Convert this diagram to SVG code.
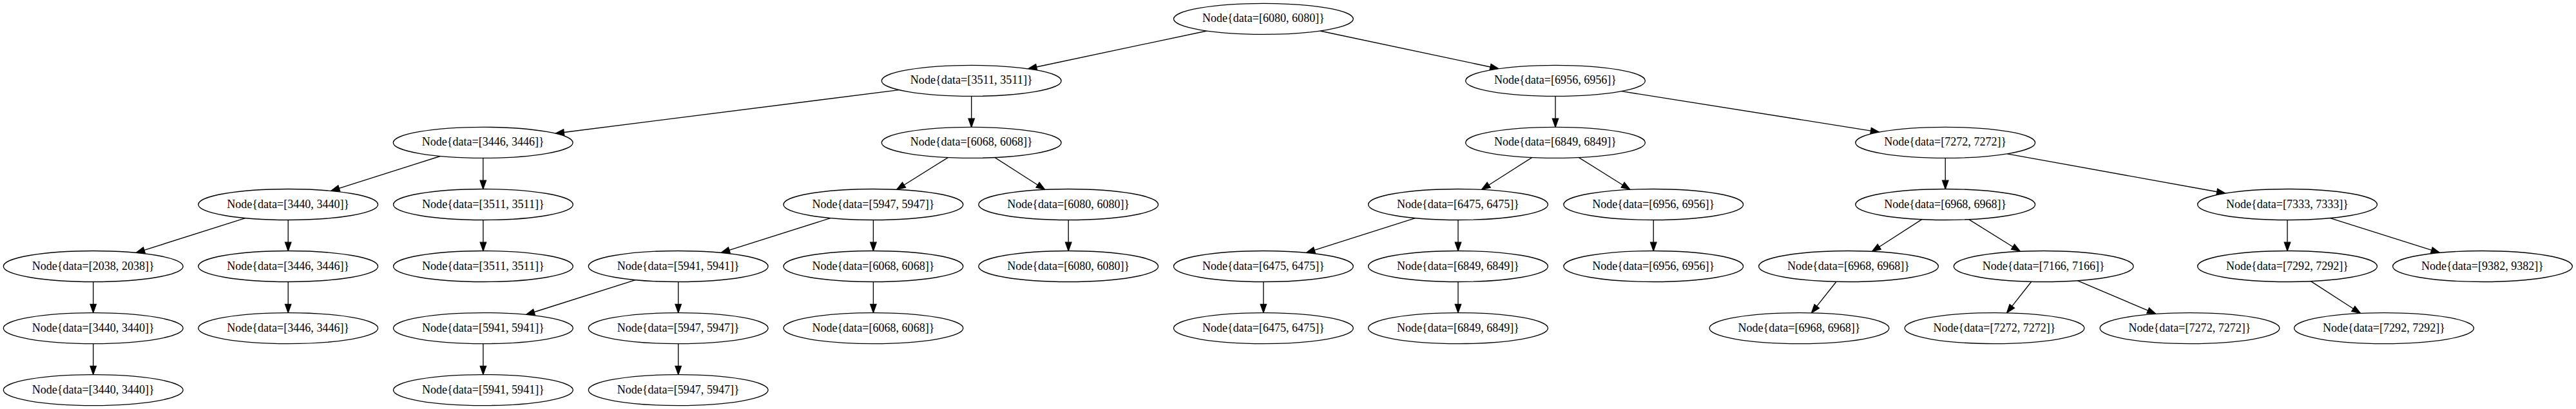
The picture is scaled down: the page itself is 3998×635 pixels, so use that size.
<svg xmlns="http://www.w3.org/2000/svg" width="3998" height="635" viewBox="0 0 3998 635">
<style>
.node ellipse{fill:#fff;stroke:#000;stroke-width:1.33}
.node text{font-family:"Liberation Serif","Times New Roman",serif;font-size:18.6px;text-anchor:middle;fill:#000}
.edges path{fill:none;stroke:#000;stroke-width:1.33;marker-end:url(#arr)}
</style>
<defs>
<marker id="arr" markerUnits="userSpaceOnUse" orient="auto" refX="0" refY="0" markerWidth="16" markerHeight="12" viewBox="-1 -6 16 12" overflow="visible">
<path d="M0,-4.67 L13.3,0 L0,4.67 Z" fill="#000" stroke="#000" stroke-width="1.33"/>
</marker>
</defs>
<rect width="3998" height="635" fill="#fff"/>
<g class="edges" id="edges">
<path d="M1873.0,47.98 L1608.6,104.01"/>
<path d="M2048.8,47.98 L2313.1,104.01"/>
<path d="M1395.4,139.63 L875.2,205.5"/>
<path d="M2516.5,141.67 L2903.6,203.05"/>
<path d="M683.25,242.5 L526.3,292.4"/>
<path d="M380.75,338.6 L223.8,388.4"/>
<path d="M1288.95,338.6 L1131.8,388.4"/>
<path d="M2196.55,338.6 L2040.0,388.4"/>
<path d="M3616.45,338.6 L3773.9,388.4"/>
<path d="M986.25,434.6 L829.0,484.5"/>
<path d="M1471.28,244.57 L1403.04,287.19"/>
<path d="M1544.12,244.57 L1610.56,287.19"/>
<path d="M2377.58,244.57 L2310.64,287.19"/>
<path d="M2450.42,244.57 L2518.56,287.19"/>
<path d="M2982.78,340.67 L2916.64,383.19"/>
<path d="M3055.62,340.67 L3124.06,383.19"/>
<path d="M3586.42,436.67 L3652.36,479.29"/>
<path d="M3115.29,238.79 L3440.82,297.74"/>
<path d="M2850.06,437.28 L2819.73,475.42"/>
<path d="M3152.76,437.28 L3122.73,475.42"/>
<path d="M3224.2,435.73 L3333.75,482.18"/>
<path d="M1507.7,149.4 L1507.7,184.1"/>
<path d="M2414,149.4 L2414,184.1"/>
<path d="M749.8,245.4 L749.8,280.2"/>
<path d="M3019.2,245.4 L3019.2,280.2"/>
<path d="M447.2,341.5 L447.2,376.2"/>
<path d="M749.9,341.5 L749.9,376.2"/>
<path d="M1355.4,341.5 L1355.4,376.2"/>
<path d="M1658.2,341.5 L1658.2,376.2"/>
<path d="M2263,341.5 L2263,376.2"/>
<path d="M2566.2,341.5 L2566.2,376.2"/>
<path d="M3550,341.5 L3550,376.2"/>
<path d="M144.7,437.5 L144.7,472.3"/>
<path d="M447.2,437.5 L447.2,472.3"/>
<path d="M1052.7,437.5 L1052.7,472.3"/>
<path d="M1355.4,437.5 L1355.4,472.3"/>
<path d="M1960.9,437.5 L1960.9,472.3"/>
<path d="M2263,437.5 L2263,472.3"/>
<path d="M144.7,533.6 L144.7,568.3"/>
<path d="M749.9,533.6 L749.9,568.3"/>
<path d="M1052.7,533.6 L1052.7,568.3"/>
</g>
<g class="node" id="n_r0_6080"><ellipse cx="1960.9" cy="29.35" rx="139.4" ry="24"/><text x="1960.9" y="34.4" textLength="190" lengthAdjust="spacingAndGlyphs">Node{data=[6080, 6080]}</text></g>
<g class="node" id="n_r1_3511"><ellipse cx="1507.7" cy="125.4" rx="139.4" ry="24"/><text x="1507.7" y="130.4" textLength="190" lengthAdjust="spacingAndGlyphs">Node{data=[3511, 3511]}</text></g>
<g class="node" id="n_r1_6956"><ellipse cx="2414" cy="125.4" rx="139.4" ry="24"/><text x="2414" y="130.4" textLength="190" lengthAdjust="spacingAndGlyphs">Node{data=[6956, 6956]}</text></g>
<g class="node" id="n_r2_3446"><ellipse cx="749.7" cy="221.4" rx="139.4" ry="24"/><text x="749.7" y="226.4" textLength="190" lengthAdjust="spacingAndGlyphs">Node{data=[3446, 3446]}</text></g>
<g class="node" id="n_r2_6068"><ellipse cx="1507.7" cy="221.4" rx="139.4" ry="24"/><text x="1507.7" y="226.4" textLength="190" lengthAdjust="spacingAndGlyphs">Node{data=[6068, 6068]}</text></g>
<g class="node" id="n_r2_6849"><ellipse cx="2414" cy="221.4" rx="139.4" ry="24"/><text x="2414" y="226.4" textLength="190" lengthAdjust="spacingAndGlyphs">Node{data=[6849, 6849]}</text></g>
<g class="node" id="n_r2_7272"><ellipse cx="3019.2" cy="221.4" rx="139.4" ry="24"/><text x="3019.2" y="226.4" textLength="190" lengthAdjust="spacingAndGlyphs">Node{data=[7272, 7272]}</text></g>
<g class="node" id="n_r3_3440"><ellipse cx="447.2" cy="317.5" rx="139.4" ry="24"/><text x="447.2" y="322.5" textLength="190" lengthAdjust="spacingAndGlyphs">Node{data=[3440, 3440]}</text></g>
<g class="node" id="n_r3_3511"><ellipse cx="749.9" cy="317.5" rx="139.4" ry="24"/><text x="749.9" y="322.5" textLength="190" lengthAdjust="spacingAndGlyphs">Node{data=[3511, 3511]}</text></g>
<g class="node" id="n_r3_5947"><ellipse cx="1355.4" cy="317.5" rx="139.4" ry="24"/><text x="1355.4" y="322.5" textLength="190" lengthAdjust="spacingAndGlyphs">Node{data=[5947, 5947]}</text></g>
<g class="node" id="n_r3_6080"><ellipse cx="1658.2" cy="317.5" rx="139.4" ry="24"/><text x="1658.2" y="322.5" textLength="190" lengthAdjust="spacingAndGlyphs">Node{data=[6080, 6080]}</text></g>
<g class="node" id="n_r3_6475"><ellipse cx="2263" cy="317.5" rx="139.4" ry="24"/><text x="2263" y="322.5" textLength="190" lengthAdjust="spacingAndGlyphs">Node{data=[6475, 6475]}</text></g>
<g class="node" id="n_r3_6956"><ellipse cx="2566.2" cy="317.5" rx="139.4" ry="24"/><text x="2566.2" y="322.5" textLength="190" lengthAdjust="spacingAndGlyphs">Node{data=[6956, 6956]}</text></g>
<g class="node" id="n_r3_6968"><ellipse cx="3019.2" cy="317.5" rx="139.4" ry="24"/><text x="3019.2" y="322.5" textLength="190" lengthAdjust="spacingAndGlyphs">Node{data=[6968, 6968]}</text></g>
<g class="node" id="n_r3_7333"><ellipse cx="3550" cy="317.5" rx="139.4" ry="24"/><text x="3550" y="322.5" textLength="190" lengthAdjust="spacingAndGlyphs">Node{data=[7333, 7333]}</text></g>
<g class="node" id="n_r4_2038"><ellipse cx="144.7" cy="413.5" rx="139.4" ry="24"/><text x="144.7" y="418.5" textLength="190" lengthAdjust="spacingAndGlyphs">Node{data=[2038, 2038]}</text></g>
<g class="node" id="n_r4_3446"><ellipse cx="447.2" cy="413.5" rx="139.4" ry="24"/><text x="447.2" y="418.5" textLength="190" lengthAdjust="spacingAndGlyphs">Node{data=[3446, 3446]}</text></g>
<g class="node" id="n_r4_3511"><ellipse cx="749.9" cy="413.5" rx="139.4" ry="24"/><text x="749.9" y="418.5" textLength="190" lengthAdjust="spacingAndGlyphs">Node{data=[3511, 3511]}</text></g>
<g class="node" id="n_r4_5941"><ellipse cx="1052.7" cy="413.5" rx="139.4" ry="24"/><text x="1052.7" y="418.5" textLength="190" lengthAdjust="spacingAndGlyphs">Node{data=[5941, 5941]}</text></g>
<g class="node" id="n_r4_6068"><ellipse cx="1355.4" cy="413.5" rx="139.4" ry="24"/><text x="1355.4" y="418.5" textLength="190" lengthAdjust="spacingAndGlyphs">Node{data=[6068, 6068]}</text></g>
<g class="node" id="n_r4_6080"><ellipse cx="1658.2" cy="413.5" rx="139.4" ry="24"/><text x="1658.2" y="418.5" textLength="190" lengthAdjust="spacingAndGlyphs">Node{data=[6080, 6080]}</text></g>
<g class="node" id="n_r4_6475"><ellipse cx="1960.9" cy="413.5" rx="139.4" ry="24"/><text x="1960.9" y="418.5" textLength="190" lengthAdjust="spacingAndGlyphs">Node{data=[6475, 6475]}</text></g>
<g class="node" id="n_r4_6849"><ellipse cx="2263" cy="413.5" rx="139.4" ry="24"/><text x="2263" y="418.5" textLength="190" lengthAdjust="spacingAndGlyphs">Node{data=[6849, 6849]}</text></g>
<g class="node" id="n_r4_6956"><ellipse cx="2566.2" cy="413.5" rx="139.4" ry="24"/><text x="2566.2" y="418.5" textLength="190" lengthAdjust="spacingAndGlyphs">Node{data=[6956, 6956]}</text></g>
<g class="node" id="n_r4_6968"><ellipse cx="2869" cy="413.5" rx="139.4" ry="24"/><text x="2869" y="418.5" textLength="190" lengthAdjust="spacingAndGlyphs">Node{data=[6968, 6968]}</text></g>
<g class="node" id="n_r4_7166"><ellipse cx="3171.7" cy="413.5" rx="139.4" ry="24"/><text x="3171.7" y="418.5" textLength="190" lengthAdjust="spacingAndGlyphs">Node{data=[7166, 7166]}</text></g>
<g class="node" id="n_r4_7292"><ellipse cx="3550" cy="413.5" rx="139.4" ry="24"/><text x="3550" y="418.5" textLength="190" lengthAdjust="spacingAndGlyphs">Node{data=[7292, 7292]}</text></g>
<g class="node" id="n_r4_9382"><ellipse cx="3853" cy="413.5" rx="139.4" ry="24"/><text x="3853" y="418.5" textLength="190" lengthAdjust="spacingAndGlyphs">Node{data=[9382, 9382]}</text></g>
<g class="node" id="n_r5_3440"><ellipse cx="144.7" cy="509.6" rx="139.4" ry="24"/><text x="144.7" y="514.6" textLength="190" lengthAdjust="spacingAndGlyphs">Node{data=[3440, 3440]}</text></g>
<g class="node" id="n_r5_3446"><ellipse cx="447.2" cy="509.6" rx="139.4" ry="24"/><text x="447.2" y="514.6" textLength="190" lengthAdjust="spacingAndGlyphs">Node{data=[3446, 3446]}</text></g>
<g class="node" id="n_r5_5941"><ellipse cx="749.9" cy="509.6" rx="139.4" ry="24"/><text x="749.9" y="514.6" textLength="190" lengthAdjust="spacingAndGlyphs">Node{data=[5941, 5941]}</text></g>
<g class="node" id="n_r5_5947"><ellipse cx="1052.7" cy="509.6" rx="139.4" ry="24"/><text x="1052.7" y="514.6" textLength="190" lengthAdjust="spacingAndGlyphs">Node{data=[5947, 5947]}</text></g>
<g class="node" id="n_r5_6068"><ellipse cx="1355.4" cy="509.6" rx="139.4" ry="24"/><text x="1355.4" y="514.6" textLength="190" lengthAdjust="spacingAndGlyphs">Node{data=[6068, 6068]}</text></g>
<g class="node" id="n_r5_6475"><ellipse cx="1960.9" cy="509.6" rx="139.4" ry="24"/><text x="1960.9" y="514.6" textLength="190" lengthAdjust="spacingAndGlyphs">Node{data=[6475, 6475]}</text></g>
<g class="node" id="n_r5_6849"><ellipse cx="2263" cy="509.6" rx="139.4" ry="24"/><text x="2263" y="514.6" textLength="190" lengthAdjust="spacingAndGlyphs">Node{data=[6849, 6849]}</text></g>
<g class="node" id="n_r5_6968"><ellipse cx="2792.5" cy="509.6" rx="139.4" ry="24"/><text x="2792.5" y="514.6" textLength="190" lengthAdjust="spacingAndGlyphs">Node{data=[6968, 6968]}</text></g>
<g class="node" id="n_r5_7272a"><ellipse cx="3095.5" cy="509.6" rx="139.4" ry="24"/><text x="3095.5" y="514.6" textLength="190" lengthAdjust="spacingAndGlyphs">Node{data=[7272, 7272]}</text></g>
<g class="node" id="n_r5_7272b"><ellipse cx="3398.5" cy="509.6" rx="139.4" ry="24"/><text x="3398.5" y="514.6" textLength="190" lengthAdjust="spacingAndGlyphs">Node{data=[7272, 7272]}</text></g>
<g class="node" id="n_r5_7292"><ellipse cx="3700" cy="509.6" rx="139.4" ry="24"/><text x="3700" y="514.6" textLength="190" lengthAdjust="spacingAndGlyphs">Node{data=[7292, 7292]}</text></g>
<g class="node" id="n_r6_3440"><ellipse cx="144.7" cy="605.6" rx="139.4" ry="24"/><text x="144.7" y="610.6" textLength="190" lengthAdjust="spacingAndGlyphs">Node{data=[3440, 3440]}</text></g>
<g class="node" id="n_r6_5941"><ellipse cx="749.9" cy="605.6" rx="139.4" ry="24"/><text x="749.9" y="610.6" textLength="190" lengthAdjust="spacingAndGlyphs">Node{data=[5941, 5941]}</text></g>
<g class="node" id="n_r6_5947"><ellipse cx="1052.7" cy="605.6" rx="139.4" ry="24"/><text x="1052.7" y="610.6" textLength="190" lengthAdjust="spacingAndGlyphs">Node{data=[5947, 5947]}</text></g>
</svg>
